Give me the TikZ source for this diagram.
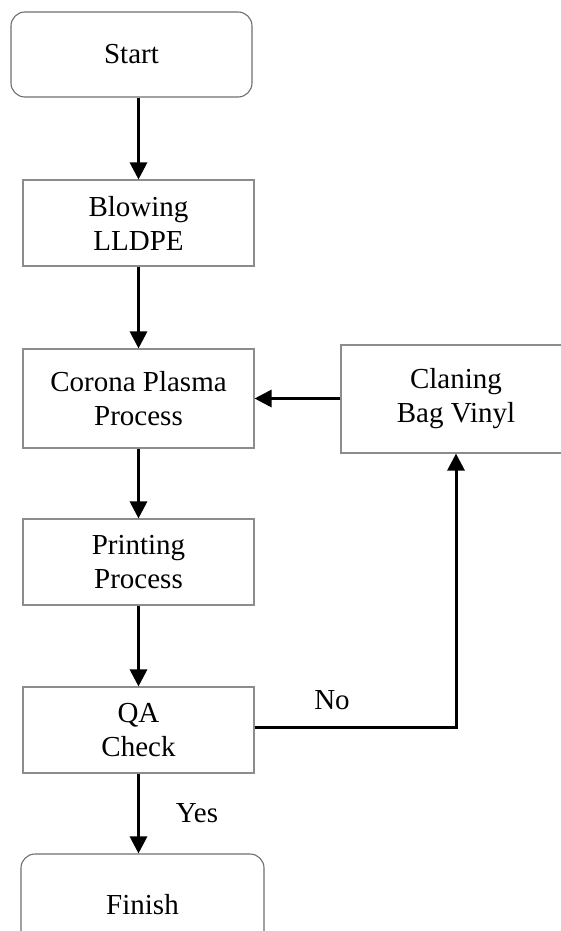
\documentclass[tikz,border=0pt]{standalone}
\usepackage{fontspec}
\setmainfont{Liberation Serif}
\usetikzlibrary{arrows.meta}
\definecolor{boxgray}{HTML}{8C8C8C}
\definecolor{termgray}{HTML}{6E6E6E}
\begin{document}
\begin{tikzpicture}[x=1pt,y=-1pt,
  box/.style={draw=boxgray, line width=1.1pt, minimum width=231pt, minimum height=86pt,
    inner sep=0pt, align=center, font=\fontsize{29}{34}\selectfont},
  term/.style={box, rounded corners=14pt, draw=termgray},
  flow/.style={line width=3pt, -{Triangle[length=17pt,width=17pt]}},
  lbl/.style={font=\fontsize{29}{34}\selectfont, inner sep=0pt}]
\useasboundingbox (0,0) rectangle (561,931);
\clip (0,0) rectangle (561,931);
\node[term, minimum width=241pt, minimum height=85pt] (start) at (131.5,54.5) {Start};
\node[box] (blow) at (138.5,223) {Blowing\\LLDPE};
\node[box, minimum height=99pt] (corona) at (138.5,398.5) {Corona Plasma\\Process};
\node[box, minimum width=230pt, minimum height=108pt] (clean) at (456,399) {Claning\\Bag Vinyl};
\node[box] (print) at (138.5,562) {Printing\\Process};
\node[box] (qa) at (138.5,730) {QA\\Check};
\node[term, minimum width=243pt, minimum height=102pt] (finish) at (142.5,905) {Finish};
\coordinate (corner) at (456,727);
\node[lbl] (no) at (332,700) {No};
\node[lbl] (yes) at (197,813) {Yes};
\draw[flow] (blow.north |- start.south) -- (blow.north);
\draw[flow] (blow.south) -- (corona.north);
\draw[flow] (corona.south) -- (print.north);
\draw[flow] (print.south) -- (qa.north);
\draw[flow] (qa.south) -- (qa.south |- finish.north);
\draw[flow] (clean.west |- corona.east) -- (corona.east);
\draw[flow] (qa.east |- corner) -- (corner) -- (clean.south);
\end{tikzpicture}
\end{document}
